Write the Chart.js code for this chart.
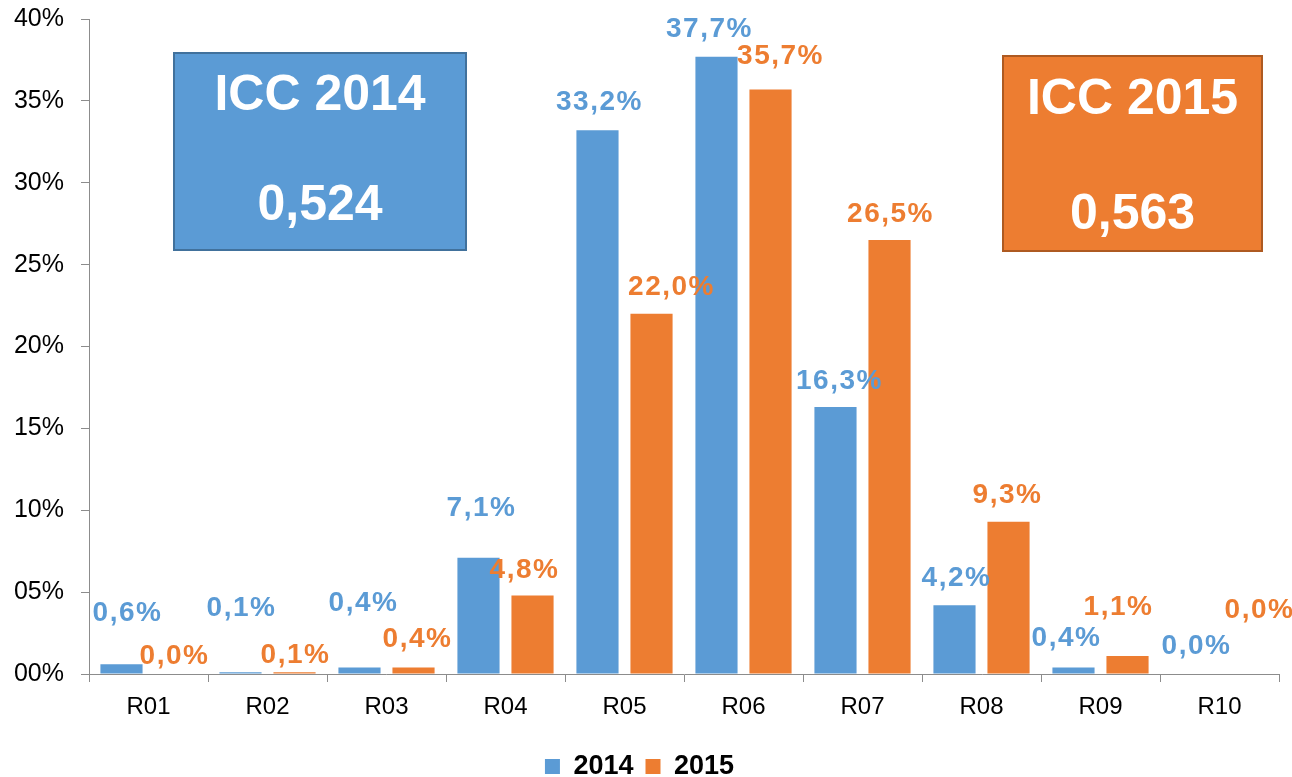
<!DOCTYPE html>
<html>
<head>
<meta charset="utf-8">
<script src="https://cdn.jsdelivr.net/npm/chart.js@4/dist/chart.umd.min.js"></script>
<style>
  html, body { margin: 0; padding: 0; background: #fff; overflow: hidden; }
  #wrap { position: relative; width: 1292px; height: 777px; overflow: hidden; }
  .box { position: absolute; box-sizing: border-box; color: #fff; font-family: "Liberation Sans", Arial, sans-serif; font-weight: bold; font-size: 50px; text-align: center; }
  .box div { position: absolute; left: 0; right: 0; line-height: 1; }
</style>
</head>
<body>
<div id="wrap">
  <canvas id="c" width="1292" height="777"></canvas>
  <div class="box" style="left:173px;top:52px;width:294px;height:199px;background:#5B9BD5;border:2px solid #41719C;">
    <div style="top:14px;">ICC 2014</div>
    <div style="top:124px;">0,524</div>
  </div>
  <div class="box" style="left:1002px;top:55px;width:261px;height:197px;background:#ED7D31;border:2px solid #AE5A21;">
    <div style="top:15px;">ICC 2015</div>
    <div style="top:130px;">0,563</div>
  </div>
</div>
<script>
const categories = ["R01","R02","R03","R04","R05","R06","R07","R08","R09","R10"];
const values2014 = [0.6, 0.1, 0.4, 7.1, 33.2, 37.7, 16.3, 4.2, 0.4, 0.0];
const values2015 = [0.0, 0.1, 0.4, 4.8, 22.0, 35.7, 26.5, 9.3, 1.1, 0.0];
const yTicks = [0, 5, 10, 15, 20, 25, 30, 35, 40];
const seriesNames = ["2014", "2015"];

// label placement nudges (pixels, relative to the bar top), as hand-placed in the original
const labelLift = [
  [51, 64, 64, 49, 28, 27, 26, 27, 29, 28],
  [18, 17, 28, 25, 26, 33, 26, 26, 49, 64]
];
const labelShift = [
  [6, 1, 4, 3, 2, -7, 4, 2, -7, 4],
  [-1, 1, 4, -8, 20, 10, 1, -1, -9, 13]
];

const BLUE = "#5B9BD5", ORANGE = "#ED7D31";
const FONT = "'Liberation Sans', Arial, sans-serif";

function fmt(v) { return v.toFixed(1).replace('.', ',') + '%'; }

const labelPlugin = {
  id: 'barLabels',
  afterDatasetsDraw(chart) {
    const ctx = chart.ctx;
    ctx.save();
    ctx.font = "bold 28px " + FONT;
    ctx.textAlign = 'center';
    ctx.textBaseline = 'middle';
    if ('letterSpacing' in ctx) ctx.letterSpacing = '1.5px';
    chart.data.datasets.forEach((ds, i) => {
      const meta = chart.getDatasetMeta(i);
      ctx.fillStyle = ds.backgroundColor;
      meta.data.forEach((bar, j) => {
        ctx.fillText(fmt(ds.data[j]), bar.x + labelShift[i][j], bar.y - labelLift[i][j]);
      });
    });
    ctx.restore();
  }
};

new Chart(document.getElementById('c'), {
  type: 'bar',
  data: {
    labels: categories,
    datasets: [
      { label: seriesNames[0], data: values2014, backgroundColor: BLUE, categoryPercentage: 0.908, barPercentage: 0.78 },
      { label: seriesNames[1], data: values2015, backgroundColor: ORANGE, categoryPercentage: 0.908, barPercentage: 0.78 }
    ]
  },
  options: {
    responsive: false,
    animation: false,
    layout: { padding: { top: 0, right: 13, left: 0, bottom: -13 } },
    plugins: {
      tooltip: { enabled: false },
      legend: {
        position: 'bottom',
        labels: {
          font: { family: FONT, size: 27, weight: 'bold' },
          color: '#000',
          boxWidth: 15, boxHeight: 15, padding: 12
        }
      }
    },
    scales: {
      x: {
        grid: { display: true, drawOnChartArea: false, offset: true, color: '#8c8c8c', tickLength: 8, lineWidth: 1 },
        border: { display: true, color: '#8c8c8c', width: 1 },
        ticks: { font: { family: FONT, size: 24 }, color: '#000', padding: 11 },
        afterFit(s) { s.height = 67; }
      },
      y: {
        min: 0, max: 40,
        afterBuildTicks(s) { s.ticks = yTicks.map(v => ({ value: v })); },
        grid: { display: true, drawOnChartArea: false, color: '#8c8c8c', tickLength: 8 },
        border: { display: true, color: '#8c8c8c', width: 1 },
        ticks: {
          font: { family: FONT, size: 25 }, color: '#000', padding: 17,
          callback: v => String(v).padStart(2, '0') + '%'
        },
        afterFit(s) { s.width = 89; s.paddingTop = 19; s.paddingBottom = 0; }
      }
    }
  },
  plugins: [labelPlugin]
});
</script>
</body>
</html>
